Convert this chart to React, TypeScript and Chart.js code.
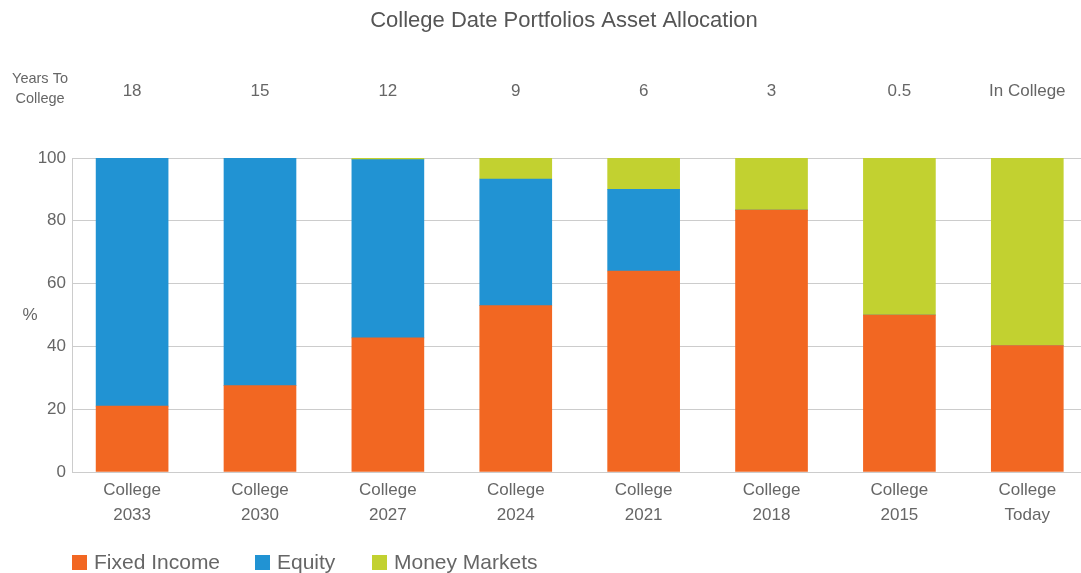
import React, { useEffect, useRef } from "react";
import { Chart, registerables } from "chart.js";

Chart.register(...registerables);

const categories = ["College 2033", "College 2030", "College 2027", "College 2024", "College 2021", "College 2018", "College 2015", "College Today"];
const yearsToCollege = ["18", "15", "12", "9", "6", "3", "0.5", "In College"];
const fixedIncome = [21, 27.5, 42.7, 53, 64, 83.4, 50, 40.3];
const equity = [79, 72.5, 56.8, 40.3, 26, 0, 0, 0];
const moneyMarkets = [0, 0, 0.5, 6.7, 10, 16.6, 50, 59.7];
const yTicks = [0, 20, 40, 60, 80, 100];

const FONT = "'Liberation Sans', Arial, sans-serif";
const TEXT = "#666666";
const COLORS = { fixed: "#F26722", equity: "#2193D3", money: "#C2D130" };

const extraText = {
  id: "extraText",
  afterDraw(chart: any) {
    const ctx = chart.ctx;
    ctx.save();
    ctx.fillStyle = "#555555";
    ctx.textAlign = "center";
    ctx.textBaseline = "middle";
    ctx.font = `22px ${FONT}`;
    ctx.fillText("College Date Portfolios Asset Allocation", 564, 21);
    ctx.fillStyle = TEXT;
    ctx.font = `14.5px ${FONT}`;
    ctx.fillText("Years To", 40, 79);
    ctx.fillText("College", 40, 99);
    ctx.font = `17px ${FONT}`;
    ctx.fillText("%", 30, 315);
    ctx.restore();
  },
};

export default function App() {
  const ref = useRef<HTMLCanvasElement | null>(null);
  useEffect(() => {
    document.body.style.margin = "0";
    const idxTicks = (axis: any) => {
      axis.ticks = categories.map((_, i) => ({ value: i }));
    };
    const chart = new Chart(ref.current!, {
      type: "bar",
      data: {
        datasets: [
          { label: "Fixed Income", data: fixedIncome.map((v, i) => ({ x: i, y: v })), backgroundColor: COLORS.fixed, barThickness: 72 },
          { label: "Equity", data: equity.map((v, i) => ({ x: i, y: v })), backgroundColor: COLORS.equity, barThickness: 72 },
          { label: "Money Markets", data: moneyMarkets.map((v, i) => ({ x: i, y: v })), backgroundColor: COLORS.money, barThickness: 72 },
        ],
      },
      options: {
        animation: false,
        responsive: false,
        layout: { padding: 0 },
        plugins: { legend: { display: false }, tooltip: { enabled: false }, title: { display: false } },
        scales: {
          x: {
            type: "linear",
            position: "bottom",
            stacked: true,
            offset: false,
            min: -0.47,
            max: 7.42,
            afterBuildTicks: idxTicks,
            afterFit: (s: any) => { s.height = 101; s.paddingLeft = 0; s.paddingRight = 0; },
            grid: { display: false, drawTicks: false, tickLength: 0, offset: false },
            border: { display: false },
            ticks: {
              autoSkip: false,
              maxRotation: 0,
              padding: 6,
              color: TEXT,
              font: { family: FONT, size: 17, lineHeight: 1.45 },
              callback: (v: any) => categories[v].split(" "),
            },
          },
          xTop: {
            type: "linear",
            position: "top",
            offset: false,
            min: -0.47,
            max: 7.42,
            afterBuildTicks: idxTicks,
            afterFit: (s: any) => { s.height = 158; s.paddingLeft = 0; s.paddingRight = 0; },
            grid: { display: false, drawTicks: false, tickLength: 0, offset: false },
            border: { display: false },
            ticks: {
              autoSkip: false,
              maxRotation: 0,
              padding: 56,
              color: TEXT,
              font: { family: FONT, size: 17 },
              callback: (v: any) => yearsToCollege[v],
            },
          },
          y: {
            stacked: true,
            min: 0,
            max: 100,
            afterBuildTicks: (axis: any) => { axis.ticks = yTicks.map((v) => ({ value: v })); },
            afterFit: (s: any) => { s.width = 72; s.paddingTop = 0; s.paddingBottom = 0; },
            grid: { color: "#cccccc", lineWidth: 1, drawTicks: false, tickLength: 0 },
            border: { display: true, color: "#cccccc", width: 1 },
            ticks: { padding: 6, color: TEXT, font: { family: FONT, size: 17 } },
          },
        },
      } as any,
      plugins: [extraText],
    });
    return () => chart.destroy();
  }, []);

  const legendItems = [
    { label: "Fixed Income", color: COLORS.fixed, left: 72 },
    { label: "Equity", color: COLORS.equity, left: 255 },
    { label: "Money Markets", color: COLORS.money, left: 372 },
  ];

  return (
    <div style={{ position: "relative", width: 1081, height: 573, overflow: "hidden" }}>
      <canvas ref={ref} width={1081} height={573} style={{ display: "block" }} />
      {legendItems.map((it) => (
        <div key={it.label} style={{ position: "absolute", left: it.left, top: 550, height: 24, display: "flex", alignItems: "center", fontFamily: FONT, fontSize: 21, color: TEXT, whiteSpace: "nowrap" }}>
          <span style={{ display: "inline-block", width: 15, height: 15, background: it.color, marginRight: 7 }} />
          {it.label}
        </div>
      ))}
    </div>
  );
}
